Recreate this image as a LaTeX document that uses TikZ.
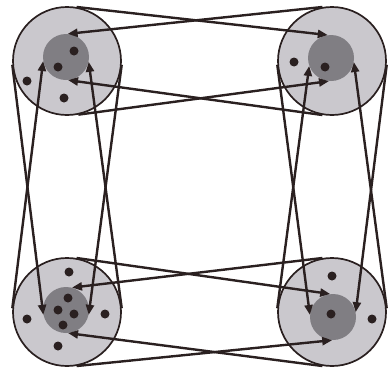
\documentclass[tikz,border=0pt]{standalone}
\usepackage{tikz}
\usepackage{xcolor}
\usetikzlibrary{arrows.meta}
\definecolor{wlLight}{RGB}{202,200,205}
\definecolor{wlMid}{RGB}{128,126,131}
\definecolor{wlInk}{RGB}{42,32,32}

\begin{document}
\begin{tikzpicture}[x=1pt,y=-1pt,
  wheel/.style={circle,fill=wlLight,draw=wlInk,line width=1.7pt,minimum size=108pt,inner sep=0pt},
  hub/.style={circle,fill=wlMid,minimum size=46pt,inner sep=0pt},
  grain/.style={circle,fill=wlInk,minimum size=9pt,inner sep=0pt},
  belt/.style={draw=wlInk,line width=2.4pt,-{Triangle[length=10pt,width=8pt]}}]
  \useasboundingbox (0,0) rectangle (390,367);
  % wheels and hubs
  \node[wheel] (tlO) at (67,61) {};
  \node[wheel] (trO) at (332,61) {};
  \node[wheel] (blO) at (67,312) {};
  \node[wheel] (brO) at (332,312) {};
  \node[hub] (tlI) at (66,57) {};
  \node[hub] (trI) at (331,58) {};
  \node[hub] (blI) at (66,310) {};
  \node[hub] (brI) at (333,317) {};
  % grains
  \foreach \n/\x/\y in {g1/74/51,g2/58/67,g3/27/81,g4/64/98,
                        g5/294/62,g6/325/67,
                        g7/69/272,g8/68/298,g9/58/310,g10/74/314,g11/63/325,g12/27/319,g13/105/314,g14/58/346,
                        g15/332/276,g16/331/314,g17/372/319}
    \node[grain] (\n) at (\x,\y) {};
  % belts
  \foreach \a/\b in {tlO.80/trI.98, trO.100/tlI.86, tlO.-78/trI.-95, trO.-100/tlI.-85,
                     blO.80/brI.97, brO.100/blI.75, blO.-80/brI.-92, brO.-100/blI.-85,
                     tlO.184/blI.192, blO.176/tlI.190, tlO.-4/blI.-12, blO.4/tlI.-12,
                     trO.184/brI.175, brO.176/trI.200, trO.-4/brI.12, brO.4/trI.-10}
    \draw[belt] (\a) -- (\b);
\end{tikzpicture}
\end{document}
